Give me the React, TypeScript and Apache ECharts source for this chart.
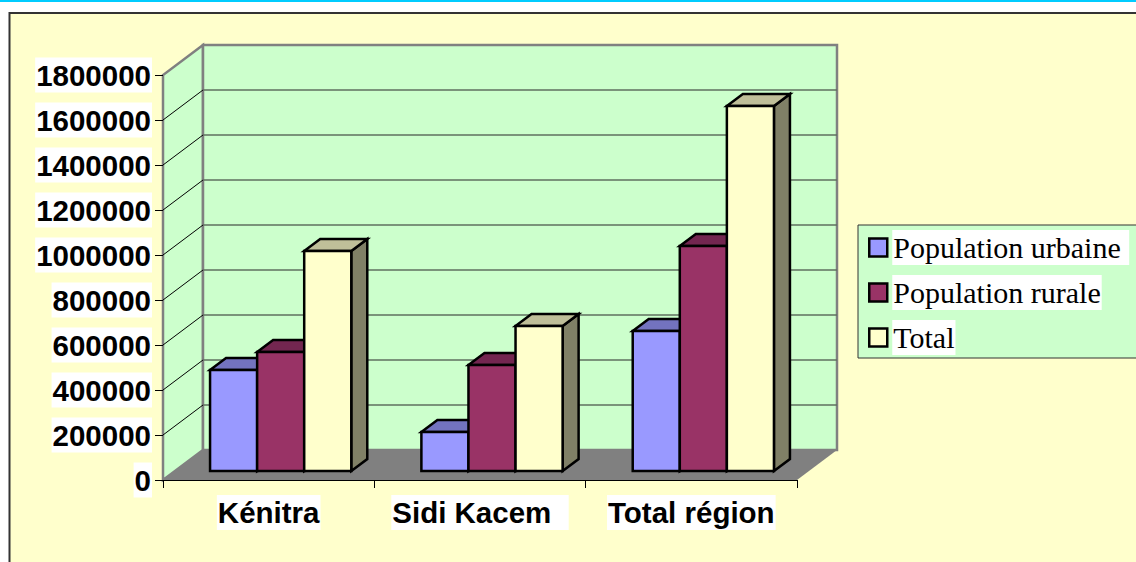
import React, { useEffect, useRef } from "react";
import * as echarts from "echarts";

const categories = ["Kénitra", "Sidi Kacem  ", "Total région"];
const urbaine = [449000, 173000, 622000];
const rurale = [529000, 471000, 1000000];
const total = [978000, 644000, 1622000];
const seriesNames = ["Population urbaine ", "Population rurale", "Total"];
const faceColors = ["#9999FF", "#993366", "#FFFFCC"];
const topColors = ["#7373BF", "#732650", "#BFBF99"];
const sideColors = ["#4D4D80", "#4D1A33", "#808066"];
const yMax = 1800000;
const yStep = 200000;

const WALL_DX = 40, WALL_DY = -30;
const BAR_SHIFT_X = 12, BAR_SHIFT_Y = -9;
const BAR_DX = 16, BAR_DY = -12;
const BAR_FRACTION = 47 / 211;

function bar3d(seriesIndex: number) {
  return (params: any, api: any) => {
    const cat = api.value(0);
    const base = api.coord([cat, 0]);
    const top = api.coord([cat, api.value(1)]);
    const band = api.size([1, 0])[0];
    const w = band * BAR_FRACTION;
    const x0 = base[0] + (seriesIndex - 1.5) * w + BAR_SHIFT_X;
    const x1 = x0 + w;
    const yb = base[1] + BAR_SHIFT_Y;
    const yt = top[1] + BAR_SHIFT_Y;
    const stroke = { stroke: "#000", lineWidth: 2.5, lineJoin: "miter" };
    return {
      type: "group",
      children: [
        { type: "polygon", shape: { points: [[x1, yt], [x1 + BAR_DX, yt + BAR_DY], [x1 + BAR_DX, yb + BAR_DY], [x1, yb]] }, style: { fill: sideColors[seriesIndex], ...stroke } },
        { type: "polygon", shape: { points: [[x0, yt], [x0 + BAR_DX, yt + BAR_DY], [x1 + BAR_DX, yt + BAR_DY], [x1, yt]] }, style: { fill: topColors[seriesIndex], ...stroke } },
        { type: "rect", shape: { x: x0, y: yt, width: w, height: yb - yt }, style: { fill: faceColors[seriesIndex], ...stroke } },
      ],
    };
  };
}

function walls(params: any, api: any) {
  const r = params.coordSys;
  const L = r.x, R = r.x + r.width, T = r.y, B = r.y + r.height;
  const children: any[] = [
    { type: "polygon", shape: { points: [[L, B], [L + WALL_DX, B + WALL_DY], [L + WALL_DX, T + WALL_DY], [L, T]] }, style: { fill: "#CCFFCC", stroke: "#808080", lineWidth: 2.5 } },
    { type: "rect", shape: { x: L + WALL_DX, y: T + WALL_DY, width: r.width, height: r.height }, style: { fill: "#CCFFCC", stroke: "#808080", lineWidth: 2.5 } },
  ];
  for (let v = yStep; v < yMax; v += yStep) {
    const y = api.coord([0, v])[1];
    children.push({ type: "line", shape: { x1: L, y1: y, x2: L + WALL_DX, y2: y + WALL_DY }, style: { stroke: "#000", lineWidth: 1 } });
    children.push({ type: "line", shape: { x1: L + WALL_DX, y1: y + WALL_DY, x2: R + WALL_DX, y2: y + WALL_DY }, style: { stroke: "#5F6F5F", lineWidth: 1.5 } });
  }
  children.push({ type: "polygon", shape: { points: [[L, B], [R, B], [R + WALL_DX, B + WALL_DY], [L + WALL_DX, B + WALL_DY]] }, style: { fill: "#808080" } });
  return { type: "group", children };
}

export default function App() {
  const ref = useRef<HTMLDivElement>(null);
  useEffect(() => {
    const chart = echarts.init(ref.current!, undefined, { renderer: "svg" });
    const sans = "'Liberation Sans', Arial, sans-serif";
    const serif = "'Liberation Serif', 'Times New Roman', serif";
    const values = [urbaine, rurale, total];
    chart.setOption({
      animation: false,
      graphic: [
        { type: "rect", z: -10, shape: { x: 9.5, y: 13, width: 1200, height: 600 }, style: { fill: "#FFFFCC", stroke: "#333333", lineWidth: 2 } },
        { type: "rect", z: -9, shape: { x: 0, y: 0, width: 1136, height: 2 }, style: { fill: "#00CCFF" } },
      ],
      legend: {
        data: seriesNames,
        orient: "vertical",
        left: 858,
        top: 225,
        padding: [5, 90, 3, 10],
        backgroundColor: "#CCFFCC",
        borderColor: "#333333",
        borderWidth: 1,
        itemWidth: 18,
        itemHeight: 18,
        itemGap: 10,
        icon: "rect",
        itemStyle: { borderColor: "#000", borderWidth: 2.5 },
        textStyle: { fontFamily: serif, fontSize: 30, color: "#000", backgroundColor: "#fff", lineHeight: 35, padding: [0, 1] },
      },
      grid: { left: 163, top: 75, right: 339, bottom: 82, containLabel: false },
      xAxis: {
        type: "category",
        data: categories,
        z: 6,
        axisLine: { lineStyle: { color: "#000", width: 1 } },
        axisTick: { show: true, length: 8, alignWithLabel: false, lineStyle: { color: "#000", width: 1 } },
        axisLabel: { margin: 15, interval: 0, fontFamily: sans, fontWeight: "bold", fontSize: 29.5, color: "#000", backgroundColor: "#fff", lineHeight: 35, padding: [0, 1] },
      },
      yAxis: {
        type: "value",
        min: 0,
        max: yMax,
        interval: yStep,
        z: 6,
        splitLine: { show: false },
        axisLine: { show: false },
        axisTick: { show: true, length: 8, lineStyle: { color: "#000", width: 1 } },
        axisLabel: { margin: 11, formatter: (v: number) => String(v), fontFamily: sans, fontWeight: "bold", fontSize: 29.5, color: "#000", backgroundColor: "#fff", lineHeight: 35, padding: [0, 1] },
      },
      series: [
        { type: "custom", name: "walls", z: 1, silent: true, renderItem: walls, data: [[0, 0]], encode: { x: 0, y: 1 } },
        ...seriesNames.map((name, i) => ({
          type: "custom",
          name,
          z: 3,
          itemStyle: { color: faceColors[i] },
          renderItem: bar3d(i),
          encode: { x: 0, y: 1 },
          data: values[i].map((v, c) => [c, v]),
        })),
      ],
    });
    return () => chart.dispose();
  }, []);
  return <div ref={ref} style={{ position: "fixed", left: 0, top: 0, width: 1136, height: 562, background: "#fff" }} />;
}
